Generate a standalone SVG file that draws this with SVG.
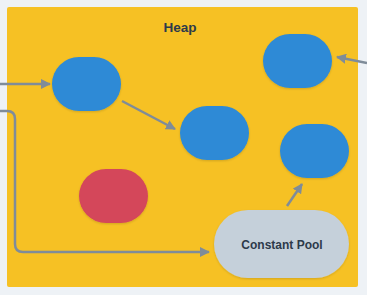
<svg xmlns="http://www.w3.org/2000/svg" width="367" height="295" viewBox="0 0 367 295">
<defs>
<style>
.obj{fill:#2d8ad6;}
.dead{fill:#d4475a;}
.pool{fill:#c5d0da;}
.lbl{font-family:"Liberation Sans",Arial,sans-serif;font-weight:bold;fill:#2d3a4a;text-anchor:middle;}
.edge{fill:none;stroke:#7f8c99;stroke-width:2.5;}
</style>
<marker id="ah" viewBox="0 0 10 10" refX="9" refY="5" markerWidth="4" markerHeight="4" orient="auto" markerUnits="strokeWidth">
<path d="M0,0 L10,5 L0,10 z" fill="#7f8c99"/>
</marker>
<filter id="sh" x="-20%" y="-20%" width="140%" height="150%">
<feDropShadow dx="0" dy="1" stdDeviation="1" flood-color="#000" flood-opacity="0.15"/>
</filter>
</defs>
<rect width="367" height="295" fill="#eef2f6"/>
<g id="heap">
<rect x="7" y="7" width="351" height="280" rx="2" fill="#f6c124"/>
<text class="lbl" x="180" y="32" font-size="13.5">Heap</text>
</g>
<g id="nodeA"><rect class="obj" x="52" y="57" width="69" height="54" rx="27" filter="url(#sh)"/></g>
<g id="nodeB"><rect class="obj" x="263" y="34" width="69" height="54" rx="27" filter="url(#sh)"/></g>
<g id="nodeC"><rect class="obj" x="180" y="106" width="69" height="54" rx="27" filter="url(#sh)"/></g>
<g id="nodeD"><rect class="obj" x="280" y="124" width="69" height="54" rx="27" filter="url(#sh)"/></g>
<g id="nodeDead"><rect class="dead" x="79" y="169" width="69" height="54" rx="27" filter="url(#sh)"/></g>
<g id="constantPool">
<rect class="pool" x="214" y="210" width="135" height="68" rx="34" filter="url(#sh)"/>
<text class="lbl" x="282" y="249" font-size="12">Constant Pool</text>
</g>
<g id="connectors">
<path class="edge" d="M0,84 L50,84" marker-end="url(#ah)"/>
<path class="edge" d="M122,101 L175,129" marker-end="url(#ah)"/>
<path class="edge" d="M367,63 L337,57" marker-end="url(#ah)"/>
<path class="edge" d="M0,111 L7,111 Q15,111 15,119 L15,244 Q15,252 23,252 L209,252" marker-end="url(#ah)"/>
<path class="edge" d="M287,206 L302,184" marker-end="url(#ah)"/>
</g>
</svg>
